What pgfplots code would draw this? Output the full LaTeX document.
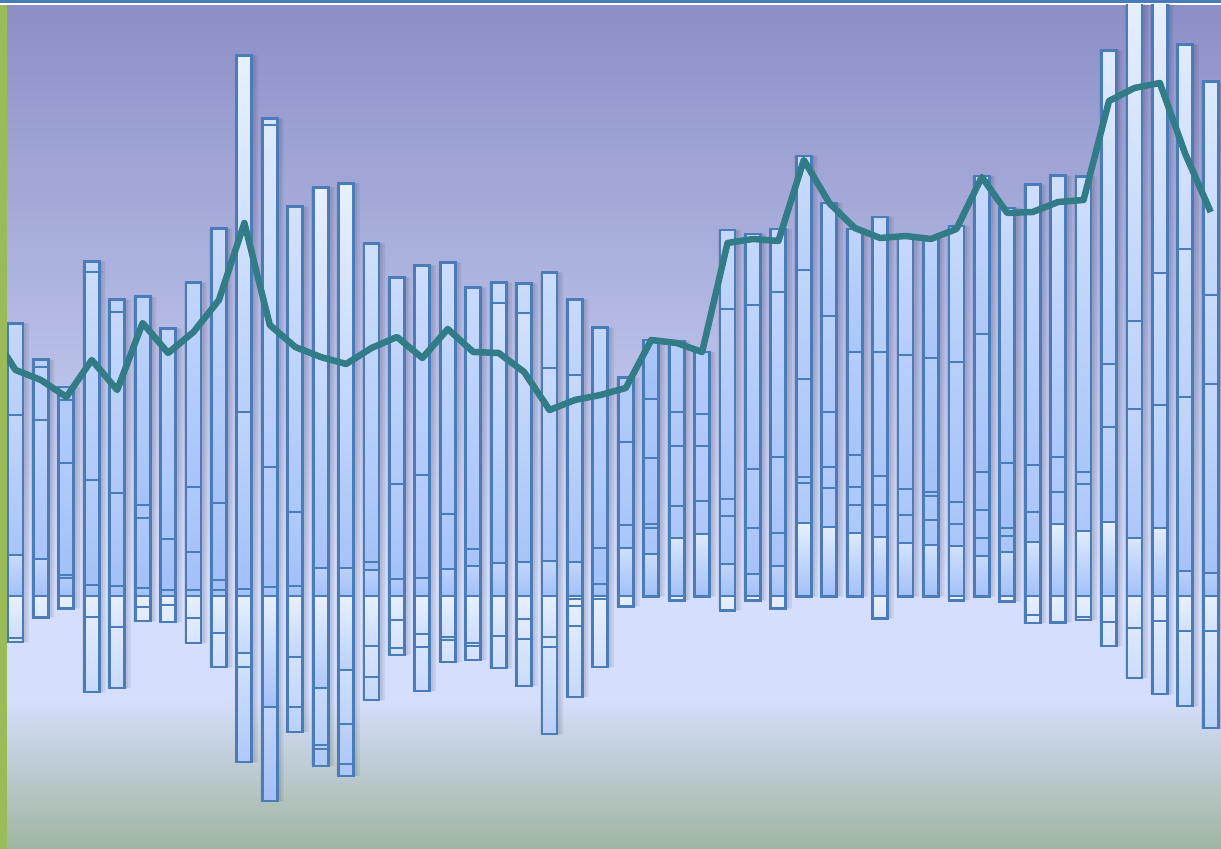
\documentclass[border=0pt]{standalone}
\usepackage{pgfplots}
\pgfplotsset{compat=1.18}
\usepackage{pgfplotstable}

\definecolor{edge}{RGB}{74,124,186}
\definecolor{segtop}{RGB}{232,240,255}
\definecolor{segbot}{RGB}{162,192,248}
\definecolor{lineteal}{RGB}{50,124,136}
\definecolor{bgtop}{RGB}{140,143,199}
\definecolor{bgmid}{RGB}{213,222,252}
\definecolor{bgbot}{RGB}{160,181,160}
\definecolor{grn}{RGB}{155,187,89}

\pgfplotstableread{
i p1 p2 p3 p4 p5 p6
0 41 140 91 0.05 0.05 0.05
1 37 139 53 7 0.05 0.05
2 18 3 112 63 13 0.05
3 11 105 208 10 0.05 0.05
4 10 93 181 12 0.05 0.05
5 8 70 13 208 0.05 0.05
6 6 51 210 0.05 0.05 0.05
7 6 38 65 204 0.05 0.05
8 6 10 77 274 0.05 0.05
9 7 177 356 0.05 0.05 0.05
10 9 120 342 6 0.05 0.05
11 10 74 305 0.05 0.05 0.05
12 28 380 0.05 0.05 0.05 0.05
13 28 384 0.05 0.05 0.05 0.05
14 26 8 318 0.05 0.05 0.05
15 17 95 206 0.05 0.05 0.05
16 18 103 209 0.05 0.05 0.05
17 27 55 251 0.05 0.05 0.05
18 30 17 261 0.05 0.05 0.05
19 33 260 20 0.05 0.05 0.05
20 34 249 29 0.05 0.05 0.05
21 35 193 95 0.05 0.05 0.05
22 34 187 75 0.05 0.05 0.05
23 12 36 220 0.05 0.05 0.05
24 48 23 83 64 0.05 0.05
25 42 26 4 66 59 59
26 58 32 60 34 71 0.05
27 62 33 55 32 62 0.05
28 32 48 17 190 79 0.05
29 22 46 59 164 71 0.05
30 30 33 76 165 63 0.05
31 73 40 6 98 109 114
32 69 39 21 55 96 113
33 63 28 18 32 103 123
34 59 32 29 124 135 0.05
35 53 28 26 134 117 0.05
36 51 25 24 4 134 119
37 50 22 22 140 136 0.05
38 40 18 28 38 138 158
39 44 16 8 65 255 0.05
40 54 30 47 280 0.05 0.05
41 72 32 35 281 0.05 0.05
42 65 47 12 295 0.05 0.05
43 74 95 63 313 0.05 0.05
44 58 129 88 330 0.05 0.05
45 68 123 132 285 0.05 0.05
46 25 174 148 204 0.05 0.05
47 23 189 89 213 0.05 0.05
}\postab

\pgfplotstableread{
i n1 n2 n3 n4
0 -42 -4 -0.05 -0.05
1 -21 -0.05 -0.05 -0.05
2 -12 -0.05 -0.05 -0.05
3 -21 -75 -0.05 -0.05
4 -31 -61 -0.05 -0.05
5 -11 -14 -0.05 -0.05
6 -9 -17 -0.05 -0.05
7 -22 -25 -0.05 -0.05
8 -37 -34 -0.05 -0.05
9 -57 -14 -95 -0.05
10 -111 -94 -0.05 -0.05
11 -61 -50 -25 -0.05
12 -92 -57 -4 -17
13 -74 -54 -40 -12
14 -50 -31 -23 -0.05
15 -24 -28 -7 -0.05
16 -38 -13 -44 -0.05
17 -41 -3 -22 -0.05
18 -47 -3 -14 -0.05
19 -40 -32 -0.05 -0.05
20 -23 -20 -47 -0.05
21 -41 -10 -87 -0.05
22 -3 -7 -20 -71
23 -3 -68 -0.05 -0.05
24 -10 -0.05 -0.05 -0.05
25 -0.05 -0.05 -0.05 -0.05
26 -4 -0.05 -0.05 -0.05
27 -0.05 -0.05 -0.05 -0.05
28 -14 -0.05 -0.05 -0.05
29 -4 -0.05 -0.05 -0.05
30 -12 -0.05 -0.05 -0.05
31 -0.05 -0.05 -0.05 -0.05
32 -0.05 -0.05 -0.05 -0.05
33 -0.05 -0.05 -0.05 -0.05
34 -22 -0.05 -0.05 -0.05
35 -0.05 -0.05 -0.05 -0.05
36 -0.05 -0.05 -0.05 -0.05
37 -4 -0.05 -0.05 -0.05
38 -0.05 -0.05 -0.05 -0.05
39 -5 -0.05 -0.05 -0.05
40 -19 -8 -0.05 -0.05
41 -26 -0.05 -0.05 -0.05
42 -21 -3 -0.05 -0.05
43 -26 -24 -0.05 -0.05
44 -32 -50 -0.05 -0.05
45 -25 -73 -0.05 -0.05
46 -35 -75 -0.05 -0.05
47 -35 -97 -0.05 -0.05
}\negtab

\pgfplotstableread{
i v
-1 266
0 226
1 216
2 199
3 236
4 206
5 273
6 243
7 264
8 296
9 373
10 271
11 249
12 239
13 232
14 248
15 259
16 238
17 267
18 244
19 243
20 224
21 186
22 196
23 201
24 208
25 256
26 253
27 244
28 353
29 357
30 355
31 436
32 393
33 368
34 358
35 360
36 357
37 367
38 419
39 383
40 384
41 394
42 396
43 495
44 508
45 513
46 442
47 384
}\linetab

\pgfplotsset{
  base/.style={scale only axis, width=1214pt, height=844pt,
    xmin=-0.334, xmax=47.405, ymin=-253, ymax=591,
    hide axis, clip=true, at={(7pt,0pt)}, anchor=south west},
  seg/.style={draw=edge, line width=2.8pt, top color=segtop, bottom color=segbot},
  shad/.style={draw=none, fill=black, fill opacity=0.07},
}

\begin{document}
\begin{tikzpicture}
% background
\shade[top color=bgtop, bottom color=bgmid] (0pt,249pt) rectangle (1221pt,844pt);
\fill[bgmid] (0pt,149pt) rectangle (1221pt,249.5pt);
\shade[top color=bgmid, bottom color=bgbot] (0pt,0pt) rectangle (1221pt,149.5pt);
\fill[white] (0pt,844pt) rectangle (1221pt,846.5pt);
\fill[edge] (0pt,846pt) rectangle (1221pt,849pt);
\fill[grn] (0pt,0pt) rectangle (7pt,844pt);

% soft shadows
\begin{axis}[base, ybar stacked, bar width=23pt, bar shift=2pt]
\addplot[shad] table[x=i,y=p1]{\postab};
\addplot[shad] table[x=i,y=p2]{\postab};
\addplot[shad] table[x=i,y=p3]{\postab};
\addplot[shad] table[x=i,y=p4]{\postab};
\addplot[shad] table[x=i,y=p5]{\postab};
\addplot[shad] table[x=i,y=p6]{\postab};
\end{axis}
\begin{axis}[base, ybar stacked, bar width=23pt, bar shift=2pt]
\addplot[shad] table[x=i,y=n1]{\negtab};
\addplot[shad] table[x=i,y=n2]{\negtab};
\addplot[shad] table[x=i,y=n3]{\negtab};
\addplot[shad] table[x=i,y=n4]{\negtab};
\end{axis}
\begin{axis}[base, ybar stacked, bar width=19pt, bar shift=1.5pt]
\addplot[shad] table[x=i,y=p1]{\postab};
\addplot[shad] table[x=i,y=p2]{\postab};
\addplot[shad] table[x=i,y=p3]{\postab};
\addplot[shad] table[x=i,y=p4]{\postab};
\addplot[shad] table[x=i,y=p5]{\postab};
\addplot[shad] table[x=i,y=p6]{\postab};
\end{axis}
\begin{axis}[base, ybar stacked, bar width=19pt, bar shift=1.5pt]
\addplot[shad] table[x=i,y=n1]{\negtab};
\addplot[shad] table[x=i,y=n2]{\negtab};
\addplot[shad] table[x=i,y=n3]{\negtab};
\addplot[shad] table[x=i,y=n4]{\negtab};
\end{axis}

\begin{axis}[base, ybar stacked, bar width=15pt]
\addplot[seg] table[x=i,y=p1]{\postab};
\addplot[seg] table[x=i,y=p2]{\postab};
\addplot[seg] table[x=i,y=p3]{\postab};
\addplot[seg] table[x=i,y=p4]{\postab};
\addplot[seg] table[x=i,y=p5]{\postab};
\addplot[seg] table[x=i,y=p6]{\postab};
\end{axis}

\begin{axis}[base, ybar stacked, bar width=15pt]
\addplot[seg] table[x=i,y=n1]{\negtab};
\addplot[seg] table[x=i,y=n2]{\negtab};
\addplot[seg] table[x=i,y=n3]{\negtab};
\addplot[seg] table[x=i,y=n4]{\negtab};
\end{axis}

\begin{axis}[base]
\addplot[sharp plot, no marks, color=lineteal, line width=6.5pt, line join=round] table[x=i,y=v]{\linetab};
\end{axis}
\end{tikzpicture}
\end{document}
